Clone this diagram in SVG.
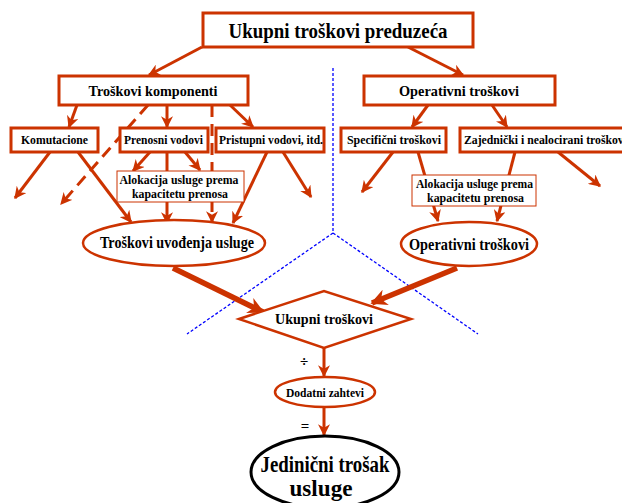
<svg xmlns="http://www.w3.org/2000/svg" width="622" height="503" viewBox="0 0 622 503">
<defs>
<marker id="ah" viewBox="0 0 10 10" refX="9" refY="5" markerWidth="4" markerHeight="4" orient="auto" markerUnits="strokeWidth">
<path d="M0,0 L10,5 L0,10 L3,5 z" fill="#CC3300"/>
</marker>
<marker id="ahs" viewBox="0 0 10 10" refX="9" refY="5" markerWidth="3" markerHeight="3" orient="auto" markerUnits="strokeWidth">
<path d="M0,0 L10,5 L0,10 L3,5 z" fill="#CC3300"/>
</marker>
<style>
text{font-family:"Liberation Serif","Times New Roman",serif;font-weight:bold;fill:#000;text-anchor:middle}
.box{fill:#fff;stroke:#CC3300;stroke-width:3}
.thin{fill:#fff;stroke:#CC3300;stroke-width:1}
.ell{fill:#fff;stroke:#CC3300;stroke-width:2.5}
.a{stroke:#CC3300;stroke-width:3;fill:none;marker-end:url(#ah)}
.d{stroke:#CC3300;stroke-width:3;fill:none;stroke-dasharray:12 7;marker-end:url(#ah)}
.t{stroke:#CC3300;stroke-width:5.5;fill:none;marker-end:url(#ahs)}
.blue{stroke:#0000FF;stroke-width:1.3;fill:none;stroke-dasharray:3 2}
</style>
</defs>
<g id="guides">
<polyline class="blue" points="333,68 333,233 187,334"/>
<line class="blue" x1="333" y1="233" x2="478" y2="334"/>
</g>
<g id="connectors">
<line class="a" x1="202" y1="47" x2="149" y2="75"/>
<line class="a" x1="408" y1="47" x2="463" y2="75"/>
<line class="a" x1="77" y1="105" x2="69" y2="127"/>
<line class="d" x1="148" y1="105" x2="61" y2="204"/>
<line class="a" x1="167" y1="105" x2="167" y2="127"/>
<line class="d" x1="212" y1="105" x2="212" y2="222"/>
<line class="a" x1="230" y1="105" x2="253" y2="127"/>
<line class="a" x1="50" y1="152" x2="15" y2="198"/>
<line class="a" x1="78" y1="152" x2="131" y2="222"/>
<line class="a" x1="150" y1="152" x2="133" y2="171"/>
<line class="a" x1="167" y1="152" x2="167" y2="223"/>
<line class="a" x1="185" y1="152" x2="200" y2="170"/>
<line class="a" x1="267" y1="152" x2="233" y2="223"/>
<line class="a" x1="283" y1="152" x2="311" y2="197"/>
<line class="a" x1="428" y1="105" x2="412" y2="127"/>
<line class="a" x1="492" y1="105" x2="507" y2="127"/>
<line class="a" x1="393" y1="152" x2="362" y2="192"/>
<line class="a" x1="418" y1="152" x2="438" y2="221"/>
<line class="a" x1="515" y1="152" x2="497" y2="221"/>
<line class="a" x1="558" y1="152" x2="600" y2="186"/>
<line class="t" x1="173" y1="268" x2="263" y2="312"/>
<line class="t" x1="457" y1="268" x2="372" y2="303"/>
<line class="a" x1="324" y1="348" x2="324" y2="376"/>
<line class="a" x1="324" y1="407" x2="324" y2="435"/>
</g>
<g id="n-top">
<rect class="box" x="203" y="13" width="270" height="34"/>
<text x="338" y="38" font-size="21" textLength="219" lengthAdjust="spacingAndGlyphs">Ukupni troškovi preduzeća</text>
</g>
<g id="n-komponenti">
<rect class="box" x="59" y="76" width="189" height="29"/>
<text x="153" y="96" font-size="14" textLength="129" lengthAdjust="spacingAndGlyphs">Troškovi komponenti</text>
</g>
<g id="n-operativni">
<rect class="box" x="364" y="76" width="191" height="29"/>
<text x="459" y="96" font-size="14" textLength="120" lengthAdjust="spacingAndGlyphs">Operativni troškovi</text>
</g>
<g id="n-komutacione">
<rect class="box" x="11" y="128" width="87" height="24"/>
<text x="54.5" y="144" font-size="12.5" textLength="67" lengthAdjust="spacingAndGlyphs">Komutacione</text>
</g>
<g id="n-prenosni">
<rect class="box" x="120" y="128" width="88" height="24"/>
<text x="163.5" y="144" font-size="12.5" textLength="79" lengthAdjust="spacingAndGlyphs">Prenosni vodovi</text>
</g>
<g id="n-pristupni">
<rect class="box" x="216" y="128" width="108" height="24"/>
<text x="271" y="144" font-size="12.5" textLength="104" lengthAdjust="spacingAndGlyphs">Pristupni vodovi, itd.</text>
</g>
<g id="n-specificni">
<rect class="box" x="341" y="128" width="105" height="24"/>
<text x="394" y="144" font-size="12.5" textLength="94" lengthAdjust="spacingAndGlyphs">Specifični troškovi</text>
</g>
<g id="n-zajednicki">
<rect class="box" x="460" y="128" width="175" height="24"/>
<text x="464" y="144" font-size="12.5" style="text-anchor:start" textLength="163" lengthAdjust="spacingAndGlyphs">Zajednički i nealocirani troškovi</text>
</g>
<g id="n-alok1">
<rect class="thin" x="117" y="171" width="127" height="31"/>
<text x="179" y="184" font-size="12.5" textLength="119" lengthAdjust="spacingAndGlyphs">Alokacija usluge prema</text>
<text x="180" y="198" font-size="12.5" textLength="96" lengthAdjust="spacingAndGlyphs">kapacitetu prenosa</text>
</g>
<g id="n-alok2">
<rect class="thin" x="412" y="175" width="124" height="31"/>
<text x="474.5" y="188" font-size="12.5" textLength="117" lengthAdjust="spacingAndGlyphs">Alokacija usluge prema</text>
<text x="475.5" y="202" font-size="12.5" textLength="97" lengthAdjust="spacingAndGlyphs">kapacitetu prenosa</text>
</g>
<g id="n-uvodjenje">
<ellipse class="ell" cx="174" cy="243" rx="91" ry="23"/>
<text x="177" y="248" font-size="17" textLength="154" lengthAdjust="spacingAndGlyphs">Troškovi uvođenja usluge</text>
</g>
<g id="n-operativni2">
<ellipse class="ell" cx="469" cy="244" rx="68" ry="22"/>
<text x="469" y="250" font-size="17" textLength="120" lengthAdjust="spacingAndGlyphs">Operativni troškovi</text>
</g>
<g id="n-ukupni">
<polygon class="ell" points="239,319 324,291 411,319 324,348"/>
<text x="324" y="324" font-size="14.5" textLength="98" lengthAdjust="spacingAndGlyphs">Ukupni troškovi</text>
</g>
<g id="n-dodatni">
<ellipse class="ell" cx="325" cy="392" rx="50" ry="15"/>
<text x="325" y="397" font-size="12" textLength="78" lengthAdjust="spacingAndGlyphs">Dodatni zahtevi</text>
</g>
<text x="304" y="366" font-size="15">÷</text>
<text x="305" y="431" font-size="15">=</text>
<g id="n-jedinicni">
<ellipse cx="325" cy="472" rx="74" ry="36" fill="#fff" stroke="#000" stroke-width="3"/>
<text x="325" y="472" font-size="24" textLength="129" lengthAdjust="spacingAndGlyphs">Jedinični trošak</text>
<text x="321" y="496" font-size="24" textLength="63" lengthAdjust="spacingAndGlyphs">usluge</text>
</g>
</svg>
